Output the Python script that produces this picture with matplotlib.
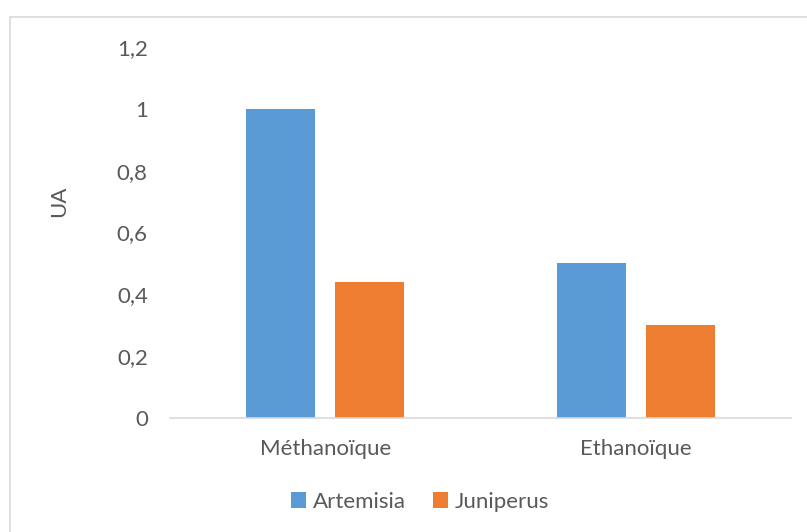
import matplotlib
matplotlib.use("Agg")
import matplotlib.pyplot as plt
from matplotlib.patches import Rectangle
from matplotlib.ticker import FuncFormatter
import numpy as np

categories = ["Méthanoïque", "Ethanoïque"]
series_names = ["Artemisia", "Juniperus"]
artemisia = [1.0, 0.5]
juniperus = [0.44, 0.3]
yticks = [0, 0.2, 0.4, 0.6, 0.8, 1.0, 1.2]

colors = ["#5B9BD5", "#ED7D31"]
text_color = "#595959"
plt.rcParams["font.family"] = ["Lato", "DejaVu Sans"]
fs = 16

W, H = 807, 532
fig = plt.figure(figsize=(W / 100, H / 100), dpi=100)
fig.patch.set_facecolor("white")

# chart frame
fig.patches.append(Rectangle((10 / W, -0.05), 1.0, 1 - 17 / H + 0.05,
                             transform=fig.transFigure, fill=False,
                             edgecolor="#D9D9D9", linewidth=1.2))

ax = fig.add_axes([170 / W, 1 - 418 / H, (791 - 170) / W, (418 - 47) / H])
x = np.arange(len(categories))
bw = 0.222
off = 0.143
ax.bar(x - off, artemisia, bw, color=colors[0], label=series_names[0])
ax.bar(x + off, juniperus, bw, color=colors[1], label=series_names[1])

ax.set_xlim(-0.5, 1.5)
ax.set_ylim(0, 1.2)
ax.set_yticks(yticks)
ax.yaxis.set_major_formatter(FuncFormatter(lambda v, p: f"{v:g}".replace(".", ",")))
ax.set_xticks(x)
ax.set_xticklabels(categories)
for s in ["top", "right", "left"]:
    ax.spines[s].set_visible(False)
ax.spines["bottom"].set_color("#D9D9D9")
ax.spines["bottom"].set_linewidth(1.2)
ax.tick_params(axis="both", length=0, colors=text_color, labelsize=fs)
ax.tick_params(axis="y", pad=16)
ax.tick_params(axis="x", pad=15)
ax.set_ylabel("UA", color=text_color, fontsize=fs)
ax.yaxis.set_label_coords(-101 / (791 - 170), 0.585)

fig.legend(loc="center", bbox_to_anchor=(420 / W, 1 - 502 / H), ncol=2,
           frameon=False, fontsize=fs, handlelength=0.7, handleheight=0.7,
           handletextpad=0.3, columnspacing=1.2, labelcolor=text_color)

fig.savefig("out.png", dpi=100)
